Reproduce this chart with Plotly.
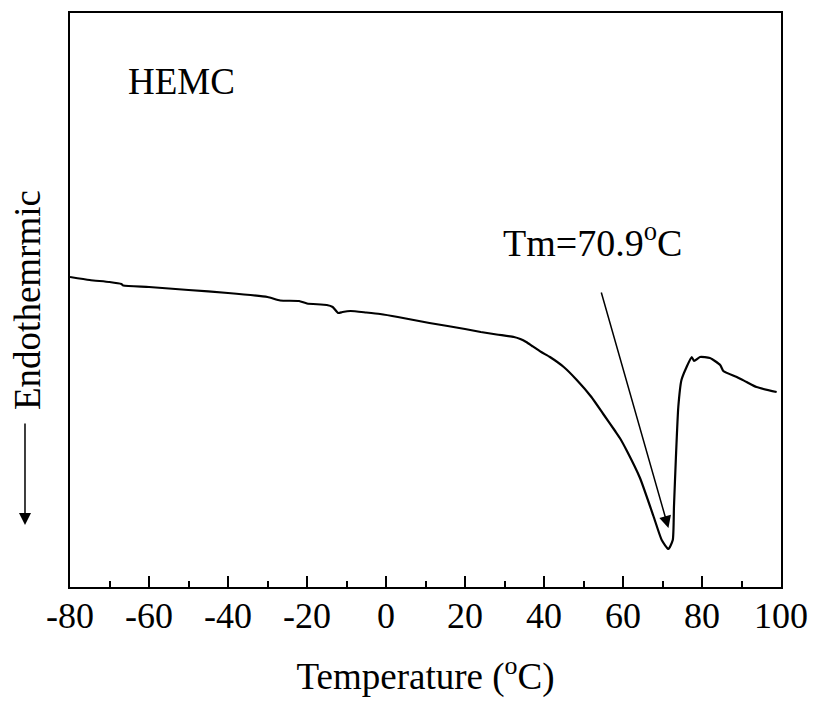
import plotly.graph_objects as go

# Temperature (°C) and heat flow (arbitrary units)
temperature = [-80, -75, -70, -67, -66.5, -60, -50, -40, -30, -26.8, -22, -20, -15, -13.5,
               -12.1, -11, -9, -5, -1.5, 3, 7, 11, 15.6, 20, 24, 28, 32.4, 34, 35.5, 37,
               39.3, 41.5, 45, 48.3, 52, 55, 58, 59.2, 61, 64.3, 67.7, 69.8, 71.5, 72.6, 72.9,
               73.4, 74, 74.8, 76.1, 77.4, 78, 79.5, 82, 84.6, 85.4, 88.8, 91.3, 93.8, 98.9]
heat_flow_px = [277, 280, 282, 284, 285.5, 287, 290, 293, 297, 300.5, 301, 303.5, 305, 307,
                313, 312, 311, 312.5, 314, 317, 320, 323, 326, 329, 332, 334.5, 337, 339, 342, 346,
                352, 357, 367, 380, 397, 414, 431, 438, 451, 478, 516, 540, 549, 540, 507,
                457, 407, 380, 367, 357, 361, 357, 358, 365, 371, 377, 382, 387, 392]
heat_flow = [round((587 - p) / 100, 3) for p in heat_flow_px]

x_ticks = [-80, -60, -40, -20, 0, 20, 40, 60, 80, 100]
x_tick_text = ["-80", "-60", "-40", "-20", "0", "20", "40", "60", "80", "100"]
sample_label = "HEMC"
tm_label = "Tm=70.9<sup>o</sup>C"
tm_value = 71.5
tm_heat = round((587 - 528) / 100, 3)
tm_tail = (54.4, round((587 - 291) / 100, 3))

FONT = "Liberation Serif, Times New Roman, serif"

fig = go.Figure()
fig.add_trace(go.Scatter(x=temperature, y=heat_flow, mode="lines",
                         line=dict(color="black", width=2.2, shape="spline", smoothing=0.5),
                         showlegend=False, hoverinfo="skip"))

fig.update_layout(
    width=814, height=704,
    margin=dict(l=70, r=33, t=13, b=117, autoexpand=False),
    paper_bgcolor="white", plot_bgcolor="white",
    font=dict(family=FONT, color="black"),
    xaxis=dict(range=[-80, 100], tickvals=x_ticks, ticktext=x_tick_text, ticks="inside",
               ticklen=11, tickwidth=1.5, tickcolor="black", showline=True,
               linecolor="black", linewidth=2, mirror=True, showgrid=False, zeroline=False,
               ticklabelstandoff=-4,
               tickfont=dict(size=36, family=FONT, color="black"),
               minor=dict(dtick=10, ticks="inside", ticklen=6, tickwidth=1.5,
                          tickcolor="black", showgrid=False),
               title=dict(text="Temperature (<sup>o</sup>C)",
                          font=dict(size=37, family=FONT, color="black"), standoff=28)),
    yaxis=dict(range=[0, 5.74], showticklabels=False, ticks="", showline=True,
               linecolor="black", linewidth=2, mirror=True, showgrid=False,
               zeroline=False),
)

fig.add_annotation(x=0.0, y=0.8815, xref="paper", yref="paper", text=sample_label,
                   showarrow=False, xanchor="left", yanchor="middle", xshift=56,
                   font=dict(size=37, family=FONT, color="black"))
fig.add_annotation(x=52.2, y=round((587 - 243) / 100, 3), xref="x", yref="y", text=tm_label,
                   showarrow=False, xanchor="center", yanchor="middle", yshift=3,
                   font=dict(size=38, family=FONT, color="black"))
fig.add_annotation(x=tm_value, y=tm_heat, xref="x", yref="y", axref="x", ayref="y",
                   ax=tm_tail[0], ay=tm_tail[1], text="", showarrow=True,
                   arrowhead=2, arrowsize=1.6, arrowwidth=1.5, arrowcolor="black")
# y-axis label with downward arrow
fig.add_annotation(x=-0.0605, y=0.5, xref="paper", yref="paper", text="Endothemrmic",
                   showarrow=False, textangle=-90, xanchor="center", yanchor="middle",
                   font=dict(size=37, family=FONT, color="black"))
fig.add_annotation(x=-0.0633, y=0.108, xref="paper", yref="paper", text="",
                   showarrow=True, ax=0, ay=-103, arrowhead=2, arrowsize=1.6,
                   arrowwidth=1.5, arrowcolor="black")

fig.write_html("out.html")
